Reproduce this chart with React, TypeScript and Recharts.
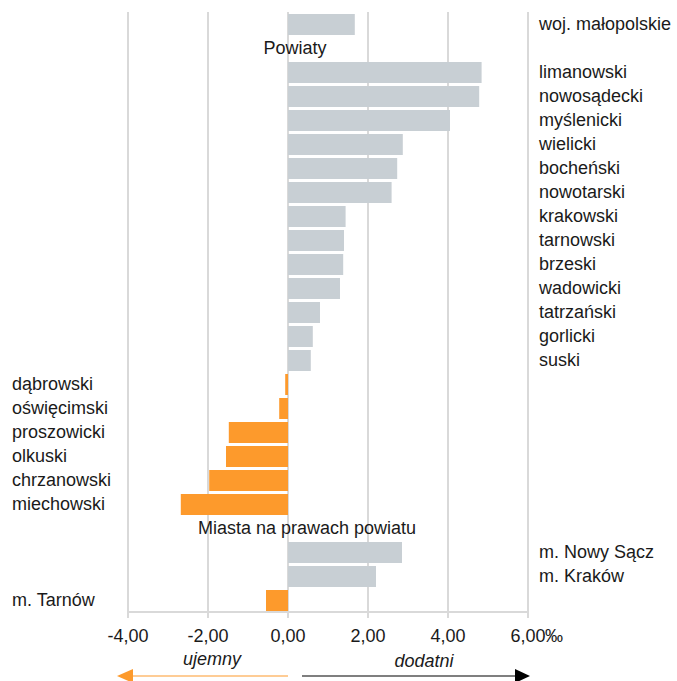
import { BarChart, Bar, XAxis, YAxis, CartesianGrid, Cell } from 'recharts';

// rows top to bottom; null = section header row (no bar)
const names = [
  'woj. małopolskie',
  'Powiaty',
  'limanowski',
  'nowosądecki',
  'myślenicki',
  'wielicki',
  'bocheński',
  'nowotarski',
  'krakowski',
  'tarnowski',
  'brzeski',
  'wadowicki',
  'tatrzański',
  'gorlicki',
  'suski',
  'dąbrowski',
  'oświęcimski',
  'proszowicki',
  'olkuski',
  'chrzanowski',
  'miechowski',
  'Miasta na prawach powiatu',
  'm. Nowy Sącz',
  'm. Kraków',
  'm. Tarnów',
];

const values: (number | null)[] = [
  1.67, null, 4.84, 4.78, 4.05, 2.87, 2.73, 2.59, 1.44, 1.4, 1.38, 1.3, 0.8, 0.62, 0.57,
  -0.07, -0.22, -1.48, -1.55, -1.97, -2.68, null, 2.85, 2.2, -0.55,
];

const xTicks = [-4, -2, 0, 2, 4, 6];
const xUnit = '‰';
const sideLabels = { negative: 'ujemny', positive: 'dodatni' };

const FONT = '"Liberation Sans", Arial, sans-serif';
const FS = 18;
const GRAY = '#c8cfd4';
const ORANGE = '#fd9a2c';
const GRID = '#d9d9d9';

const W = 677;
const H = 681;
const M = { top: 12, right: 149, left: 8, bottom: 39 };
const Y_W = 120;
const X_H = 30;
const plotLeft = M.left + Y_W;
const plotRight = W - M.right;
const xMin = xTicks[0];
const xMax = xTicks[xTicks.length - 1];
const px = (v: number) => plotLeft + ((v - xMin) / (xMax - xMin)) * (plotRight - plotLeft);

const data = names.map((name, i) => ({ name, value: values[i] }));

const fmt = (v: number) => v.toFixed(2).replace('.', ',');

function XTick({ x, y, payload }: any) {
  const v = payload.value as number;
  return (
    <g>
      <text x={x} y={y} dy={22} textAnchor="middle" fontSize={FS} fontFamily={FONT} fill="#1a1a1a">
        {fmt(v)}
      </text>
      {v === xMax && (
        <text x={x + 17} y={y} dy={22} textAnchor="start" fontSize={FS} fontFamily={FONT} fill="#1a1a1a">
          {xUnit}
        </text>
      )}
    </g>
  );
}

function YTick({ y, index }: any) {
  const row = data[index];
  if (!row) return null;
  if (row.value === null) {
    const cx = index < 5 ? 295 : 307;
    return (
      <text x={cx} y={y} dy="0.35em" textAnchor="middle" fontSize={FS} fontFamily={FONT} fill="#1a1a1a">
        {row.name}
      </text>
    );
  }
  const neg = row.value < 0;
  return (
    <text
      x={neg ? 12 : plotRight + 11}
      y={y}
      dy="0.35em"
      textAnchor="start"
      fontSize={FS}
      fontFamily={FONT}
      fill="#1a1a1a"
    >
      {row.name}
    </text>
  );
}

export default function App() {
  const zeroX = px(0);
  const arrowY = 676;
  return (
    <div style={{ position: 'absolute', left: 0, top: 0, width: W, height: H, background: '#fff' }}>
      <BarChart width={W} height={H} data={data} layout="vertical" margin={M}>
        <CartesianGrid horizontal={false} stroke={GRID} strokeWidth={2} />
        <XAxis
          type="number"
          domain={[xMin, xMax]}
          ticks={xTicks}
          height={X_H}
          axisLine={{ stroke: GRID, strokeWidth: 2 }}
          tickLine={{ stroke: GRID, strokeWidth: 2 }}
          tickSize={6}
          tick={<XTick />}
          interval={0}
        />
        <YAxis
          type="category"
          dataKey="name"
          width={Y_W}
          axisLine={false}
          tickLine={false}
          interval={0}
          tick={<YTick />}
        />
        <Bar dataKey="value" barSize={21} isAnimationActive={false}>
          {data.map((d, i) => (
            <Cell key={i} fill={d.value !== null && d.value < 0 ? ORANGE : GRAY} />
          ))}
        </Bar>
      </BarChart>
      <svg
        width={W}
        height={H}
        style={{ position: 'absolute', left: 0, top: 0, pointerEvents: 'none' }}
      >
        <text x={212} y={665} textAnchor="middle" fontSize={FS} fontStyle="italic" fontFamily={FONT} fill="#1a1a1a">
          {sideLabels.negative}
        </text>
        <text x={424} y={667} textAnchor="middle" fontSize={FS} fontStyle="italic" fontFamily={FONT} fill="#1a1a1a">
          {sideLabels.positive}
        </text>
        <line x1={zeroX} y1={arrowY} x2={px(xMin) - 5} y2={arrowY} stroke={ORANGE} strokeWidth={1.2} />
        <polygon
          points={`${px(xMin) - 11},${arrowY} ${px(xMin) + 5},${arrowY - 7} ${px(xMin) + 5},${arrowY + 7}`}
          fill={ORANGE}
        />
        <line x1={zeroX + 14} y1={arrowY} x2={px(xMax) - 10} y2={arrowY} stroke="#000" strokeWidth={1.2} />
        <polygon
          points={`${px(xMax) + 2},${arrowY} ${px(xMax) - 13},${arrowY - 7} ${px(xMax) - 13},${arrowY + 7}`}
          fill="#000"
        />
      </svg>
    </div>
  );
}
